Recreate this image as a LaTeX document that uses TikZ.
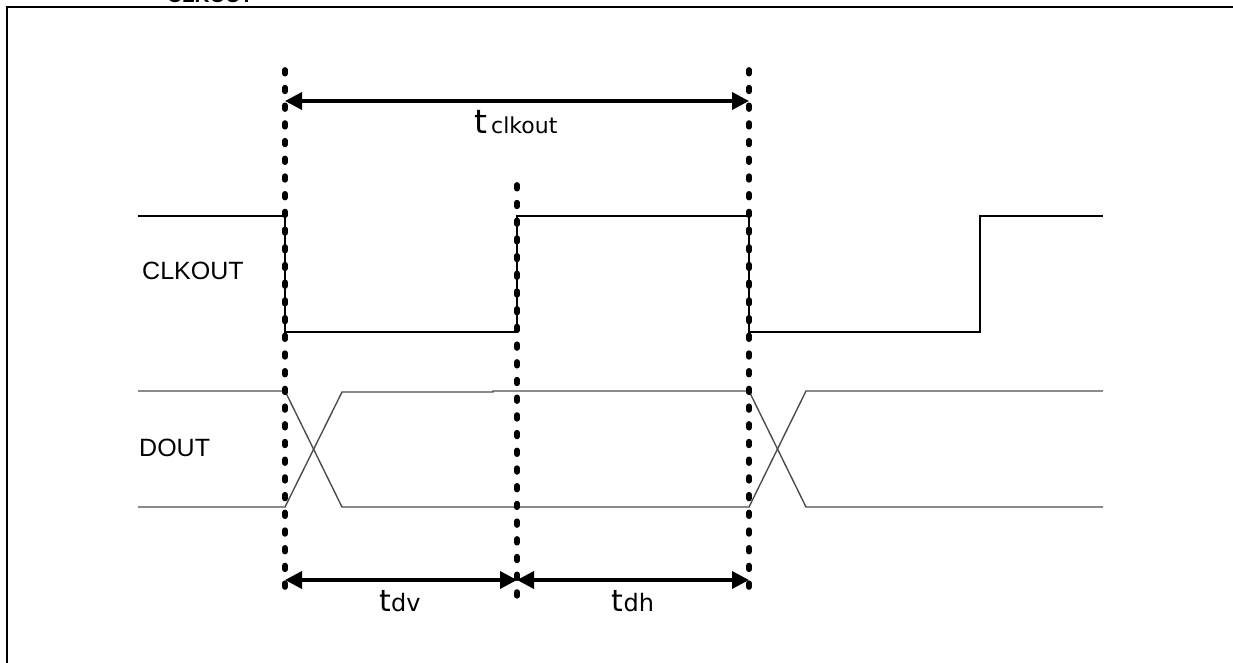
\documentclass[tikz,border=0pt]{standalone}
\usepackage{fontspec}
\setmainfont{Liberation Sans}
\newfontfamily\tfont{DejaVu Sans}
\usetikzlibrary{arrows.meta}
\begin{document}
\begin{tikzpicture}[x=1pt,y=-1pt,
  marker/.style={line width=5.8pt, line cap=round, dash pattern=on 3.6pt off 14.1pt},
  dimarrow/.style={line width=3.6pt, {Triangle[length=17pt,width=17pt]}-{Triangle[length=17pt,width=17pt]}},
  clk/.style={line width=1.4pt, black},
  dat/.style={line width=1.4pt, black!70},
  frameline/.style={line width=2.4pt},
  siglabel/.style={font=\fontsize{25}{30}\selectfont, inner sep=0pt, anchor=west},
  tlabel/.style={inner sep=0pt, anchor=base},
  ]
\useasboundingbox (0,0) rectangle (1233,663);
\draw[frameline] (7,664) -- (7,7) -- (1240,7);
\node[anchor=base west, font=\bfseries\fontsize{20.6}{24}\selectfont, inner sep=0] (title) at (167,3) {CLKOUT};

% marker coordinates
\coordinate (La) at (285,70);  \coordinate (Lb) at (285,595);
\coordinate (Ma) at (517,185); \coordinate (Mb) at (517,605);
\coordinate (Ra) at (749,70);  \coordinate (Rb) at (749,595);

% waveforms
\draw[clk] (138,216) -- (285,216) -- (285,332) -- (517,332) -- (517,216) -- (749,216) -- (749,332) -- (980,332) -- (980,216) -- (1103,216);
\draw[dat] (138,391) -- (285,391) -- (342,507) -- (749,507) -- (806,391) -- (1103,391);
\draw[dat] (138,507) -- (285,507) -- (342,392) -- (493,392) -- (493,391) -- (749,391) -- (806,507) -- (1103,507);

% dotted markers
\draw[marker] (La) -- (Lb);
\draw[marker] (Ma) -- (Mb);
\draw[marker] (Ra) -- (Rb);

% dimension arrows
\coordinate (A1) at (285,101); \coordinate (A2) at (749,101);
\coordinate (B1) at (285,580); \coordinate (B2) at (517,580); \coordinate (B3) at (749,580);
\draw[dimarrow] (A1) -- (A2);
\draw[dimarrow] (B1) -- (B2);
\draw[dimarrow] (B2) -- (B3);

% labels
\node[siglabel] (clklab) at (142,271) {CLKOUT};
\node[siglabel] (doutlab) at (139,448) {DOUT};
\node[tlabel] (tclk) at (516,134) {\tfont\fontsize{33}{36}\selectfont t\fontsize{22}{26}\selectfont\,clkout};
\node[tlabel] (tdv) at (400,611) {\tfont\fontsize{30}{36}\selectfont t\fontsize{24}{26}\selectfont dv};
\node[tlabel] (tdh) at (633,611) {\tfont\fontsize{30}{36}\selectfont t\fontsize{24}{26}\selectfont dh};
\end{tikzpicture}
\end{document}
